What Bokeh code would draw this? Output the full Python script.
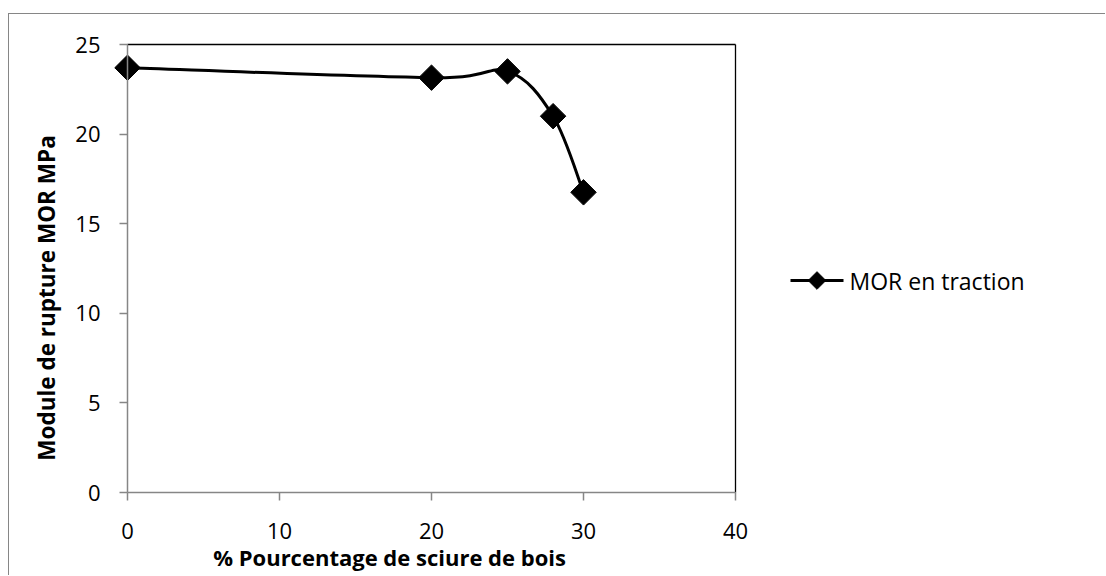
import numpy as np
from bokeh.plotting import figure
from bokeh.models import Range1d, FixedTicker, ColumnDataSource
from bokeh.core.properties import value
from bokeh.embed import file_html
from bokeh.resources import INLINE

# ---- data ----
pct_sciure = [0, 20, 25, 28, 30]
mor_traction = [23.7, 23.15, 23.5, 21.0, 16.75]
series_name = "MOR en traction"
x_ticks = [0, 10, 20, 30, 40]
y_ticks = [0, 5, 10, 15, 20, 25]
x_title = "% Pourcentage de sciure de bois"
y_title = "Module de rupture MOR MPa"

FONT = "Open Sans"
GRAY = "#868686"

# ---- geometry (pixels) ----
W, H = 1097, 562                 # canvas, placed at page (9, 14)
CX, CY = 9, 14
PLOT_L, PLOT_R, PLOT_T, PLOT_B = 127, 735, 44, 492   # plot area on page
PXU = (PLOT_R - PLOT_L) / (x_ticks[-1] - x_ticks[0])
PYU = (PLOT_B - PLOT_T) / (y_ticks[-1] - y_ticks[0])
FR_L, FR_R, FR_T, FR_B = 16, 1100, 30, 575   # drawing frame on page
FW, FH = FR_R - FR_L, FR_B - FR_T


def dx(page_x):
    return x_ticks[0] + (page_x - PLOT_L) / PXU


def dy(page_y):
    return y_ticks[0] + (PLOT_B - page_y) / PYU


p = figure(width=W, height=H, output_backend="svg", toolbar_location=None,
           x_range=Range1d(dx(FR_L), dx(FR_R)), y_range=Range1d(dy(FR_B), dy(FR_T)),
           min_border_left=FR_L - CX, min_border_top=FR_T - CY,
           min_border_right=W - (FR_L - CX) - FW,
           min_border_bottom=H - (FR_T - CY) - FH,
           outline_line_color=None)
p.styles = {"margin-left": "8px", "margin-top": "13px",
            "border-left": f"1px solid {GRAY}", "border-top": f"1px solid {GRAY}"}
p.grid.visible = False

for ax, ticks in ((p.xaxis[0], x_ticks), (p.yaxis[0], y_ticks)):
    ax.ticker = FixedTicker(ticks=ticks)
    ax.bounds = (ticks[0], ticks[-1])
    ax.axis_line_color = GRAY
    ax.axis_line_width = 1.5
    ax.major_tick_line_color = GRAY
    ax.major_tick_line_width = 1.5
    ax.major_tick_out = 8
    ax.major_tick_in = 0
    ax.minor_tick_line_color = None
    ax.major_label_text_font = FONT
    ax.major_label_text_font_size = "22px"
    ax.major_label_text_color = "black"
p.yaxis.fixed_location = x_ticks[0]
p.xaxis.fixed_location = y_ticks[0]
p.xaxis.major_label_standoff = 22
p.yaxis.major_label_standoff = 19

# axis titles (placed as in the reference, not centred on the plot area)
p.text([dx(212.7)], [dy(556)], text=[x_title], text_font=value(FONT),
       text_font_style="bold", text_font_size="22px", text_color="black",
       text_baseline="alphabetic", text_align="left")
p.text([dx(45.5)], [dy(297.5)], text=[y_title], text_font=value(FONT),
       text_font_style="bold", text_font_size="22.5px", text_color="black",
       text_baseline="alphabetic", text_align="center", angle=np.pi / 2)

# plot-area border (top and right)
p.segment(x0=[x_ticks[0], x_ticks[-1]], y0=[y_ticks[-1], y_ticks[0]],
          x1=[x_ticks[-1], x_ticks[-1]], y1=[y_ticks[-1], y_ticks[-1]],
          line_color="black", line_width=1.3)

# smoothed line (Catmull-Rom -> cubic Bezier control points from the data)
xs = np.array(pct_sciure, float)
ys = np.array(mor_traction, float)
n = len(xs)
px = np.concatenate([[xs[0]], xs, [xs[-1]]])
py = np.concatenate([[ys[0]], ys, [ys[-1]]])
seg = dict(x0=[], y0=[], x1=[], y1=[], cx0=[], cy0=[], cx1=[], cy1=[])
for i in range(n - 1):
    p0x, p1x, p2x, p3x = px[i], px[i + 1], px[i + 2], px[i + 3]
    p0y, p1y, p2y, p3y = py[i], py[i + 1], py[i + 2], py[i + 3]
    seg["x0"].append(p1x); seg["y0"].append(p1y)
    seg["x1"].append(p2x); seg["y1"].append(p2y)
    seg["cx0"].append(p1x + (p2x - p0x) / 6); seg["cy0"].append(p1y + (p2y - p0y) / 6)
    seg["cx1"].append(p2x - (p3x - p1x) / 6); seg["cy1"].append(p2y - (p3y - p1y) / 6)
p.bezier(x0="x0", y0="y0", x1="x1", y1="y1", cx0="cx0", cy0="cy0",
         cx1="cx1", cy1="cy1", source=ColumnDataSource(seg),
         line_color="black", line_width=3)
p.scatter(pct_sciure, mor_traction, marker="square", angle=np.pi / 4,
          size=18, fill_color="black", line_color="black")

# legend (drawn in the frame, right of the plot area)
LG_Y = dy(280)
p.segment(x0=[dx(790)], y0=[LG_Y], x1=[dx(843)], y1=[LG_Y],
          line_color="black", line_width=3)
p.scatter([dx(816.5)], [LG_Y], marker="square", angle=np.pi / 4, size=12.5,
          fill_color="black", line_color="black")
p.text([dx(849)], [LG_Y], text=[series_name], text_font=value(FONT),
       text_font_size="23px", text_color="black", text_baseline="middle",
       text_align="left")

open("out.html", "w").write(file_html(p, INLINE))
